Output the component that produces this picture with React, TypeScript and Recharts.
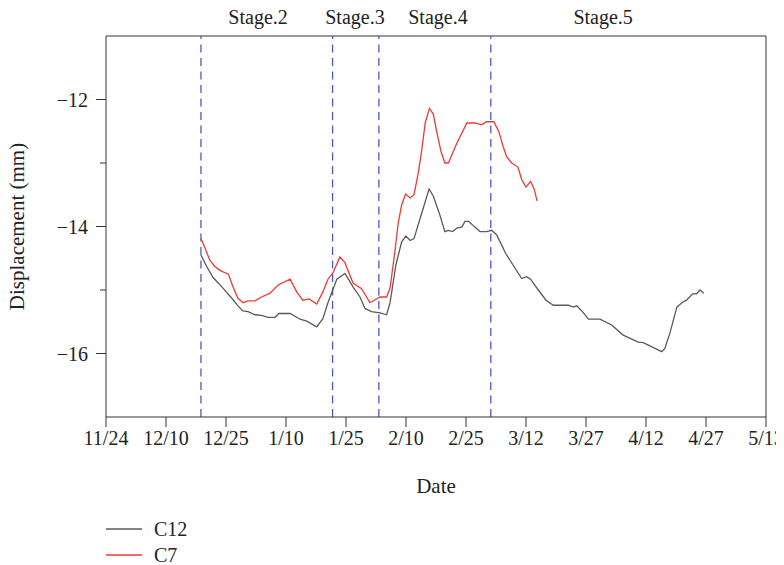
import { LineChart, Line, XAxis, YAxis, ReferenceLine, Legend, Label } from "recharts";

const FONT = "'Liberation Serif', 'DejaVu Serif', serif";
const AXIS_COLOR = "#333333";
const STAGE_COLOR = "#4b58c0";

// x axis: days counted from 11/24, ticks evenly spread over the span
const spanDays = 171;
const tickLabels = ["11/24", "12/10", "12/25", "1/10", "1/25", "2/10", "2/25", "3/12", "3/27", "4/12", "4/27", "5/13"];
const yTicks = [-16, -15, -14, -13, -12];

const c12Days = [
  24.6, 26.1, 27.7, 30.3, 32.6, 34.2, 35.5, 36.8, 38.6, 40.3, 42.0, 43.8, 44.8, 47.7, 50.3, 52.0,
  54.6, 56.2, 57.5, 59.8, 61.9, 64.0, 65.8, 67.1, 68.8, 71.0, 72.7, 73.6, 75.1, 76.6, 77.7, 78.8,
  79.8, 81.4, 82.7, 83.7, 84.8, 86.5, 87.8, 88.7, 89.8, 91.0, 92.2, 93.0, 94.0, 95.2, 96.9, 98.6,
  99.9, 101.2, 102.9, 103.4, 105.5, 107.7, 109.0, 110.0, 112.0, 114.0, 115.9, 119.8, 121.1, 122.0,
  123.7, 125.0, 128.0, 131.0, 134.0, 137.9, 139.2, 144.0, 144.8, 146.1, 147.9, 149.2, 150.4, 152.0,
  153.0, 153.9, 154.9,
];
const c12Values = [
  -14.45, -14.63, -14.8, -14.97, -15.13, -15.25, -15.33, -15.34, -15.39, -15.4, -15.43, -15.43, -15.37, -15.37, -15.46, -15.49,
  -15.58, -15.45, -15.2, -14.83, -14.74, -14.95, -15.11, -15.29, -15.34, -15.36, -15.39, -15.2, -14.61, -14.24, -14.15, -14.22,
  -14.19, -13.87, -13.61, -13.41, -13.52, -13.82, -14.08, -14.06, -14.08, -14.02, -14.01, -13.92, -13.92, -13.99, -14.08, -14.08,
  -14.06, -14.13, -14.34, -14.41, -14.61, -14.82, -14.79, -14.83, -15.0, -15.16, -15.24, -15.24, -15.27, -15.25,
  -15.36, -15.46, -15.46, -15.55, -15.71, -15.82, -15.83, -15.97, -15.92, -15.68, -15.27, -15.2, -15.16, -15.06,
  -15.06, -15.0, -15.05,
];

const c7Days = [
  24.6, 25.65, 26.9, 28.2, 29.5, 31.7, 32.9, 34.2, 35.5, 36.8, 38.6, 40.3, 42.5, 44.6, 47.7, 49.4,
  51.0, 52.6, 54.6, 56.2, 57.5, 58.8, 60.6, 61.9, 64.0, 66.2, 68.4, 71.0, 72.7, 73.6, 74.9, 75.7,
  76.6, 77.6, 78.8, 79.8, 80.9, 81.8, 82.7, 83.8, 84.8, 85.7, 86.8, 87.8, 88.7, 90.9, 93.5, 95.6,
  97.3, 98.6, 100.5, 101.8, 102.9, 103.8, 105.1, 106.7, 107.7, 108.8, 110.0, 110.9, 111.7,
];
const c7Values = [
  -14.19, -14.34, -14.53, -14.63, -14.69, -14.75, -14.95, -15.13, -15.2, -15.17, -15.17, -15.11, -15.05, -14.92, -14.83, -15.03,
  -15.16, -15.14, -15.22, -15.03, -14.83, -14.73, -14.48, -14.57, -14.89, -14.98, -15.2, -15.11, -15.11, -14.97, -14.37, -13.95,
  -13.66, -13.49, -13.55, -13.5, -13.16, -12.8, -12.37, -12.14, -12.23, -12.51, -12.82, -13.0, -13.0, -12.69, -12.37, -12.37,
  -12.4, -12.35, -12.35, -12.51, -12.74, -12.9, -13.0, -13.06, -13.26, -13.38, -13.29, -13.4, -13.6,
];

const stageBounds = [24.6, 58.7, 70.7, 99.7];
const stageNames = ["Stage.2", "Stage.3", "Stage.4", "Stage.5"];
const stageLabelDays = [39.4, 64.5, 86.0, 128.8];

const series = [
  { name: "C12", color: "#5a5a5a", data: c12Days.map((day, i) => ({ day, value: c12Values[i] })) },
  { name: "C7", color: "#ec3a36", data: c7Days.map((day, i) => ({ day, value: c7Values[i] })) },
];

const xTicks = tickLabels.map((_, i) => (i * spanDays) / (tickLabels.length - 1));
const formatX = (v: number) => tickLabels[Math.round((v * (tickLabels.length - 1)) / spanDays)];

const Y_TICK_SIZE = 10;
const Y_TICK_MARGIN = 8;

// major ticks carry a label, the odd values only get a short mark
function YTick(props: any) {
  const { x, y, payload } = props;
  const axisX = x + Y_TICK_SIZE + Y_TICK_MARGIN;
  const major = payload.value % 2 === 0;
  return (
    <g>
      <line x1={axisX} x2={axisX - (major ? Y_TICK_SIZE : 6)} y1={y} y2={y} stroke={AXIS_COLOR} />
      {major && (
        <text x={x} y={y} dy="0.35em" textAnchor="end" fill="#222" fontSize={20} fontFamily={FONT}>
          {"\u2212" + Math.abs(payload.value)}
        </text>
      )}
    </g>
  );
}

function YLabel(props: any) {
  const { viewBox } = props;
  const x = viewBox.x + 16;
  const y = viewBox.y + viewBox.height / 2;
  return (
    <text x={x} y={y} transform={`rotate(-90, ${x}, ${y})`} textAnchor="middle" fill="#222" fontSize={21} fontFamily={FONT}>
      Displacement (mm)
    </text>
  );
}

function LegendBox() {
  return (
    <div style={{ fontFamily: FONT, fontSize: 20, color: "#222" }}>
      {series.map((s) => (
        <div key={s.name} style={{ display: "flex", alignItems: "center", height: 26 }}>
          <svg width={36} height={4} style={{ marginRight: 12 }}>
            <line x1={0} x2={36} y1={2} y2={2} stroke={s.color} strokeWidth={1.3} />
          </svg>
          <span>{s.name}</span>
        </div>
      ))}
    </div>
  );
}

export default function App() {
  return (
    <>
      {/* let labels near the edges spill into the page margin */}
      <style>{".recharts-surface { overflow: visible; }"}</style>
      <LineChart width={776} height={557} margin={{ top: 28, right: 18, left: 0, bottom: 68 }}>
        <XAxis
          dataKey="day"
          type="number"
          domain={[0, spanDays]}
          ticks={xTicks}
          tickFormatter={formatX}
          interval={0}
          allowDataOverflow
          height={80}
          tickSize={10}
          tickMargin={4}
          stroke={AXIS_COLOR}
          tick={{ fill: "#222", fontSize: 20, fontFamily: FONT }}
        >
          <Label value="Date" position="insideBottom" offset={4} fill="#222" fontSize={21} fontFamily={FONT} />
        </XAxis>
        <YAxis
          type="number"
          domain={[-17, -11]}
          ticks={yTicks}
          interval={0}
          allowDataOverflow
          width={98}
          tickSize={Y_TICK_SIZE}
          tickMargin={Y_TICK_MARGIN}
          tickLine={false}
          stroke={AXIS_COLOR}
          tick={<YTick />}
        >
          <Label content={<YLabel />} />
        </YAxis>
        {/* closing frame on top and right */}
        <ReferenceLine y={-11} stroke={AXIS_COLOR} />
        <ReferenceLine x={spanDays} stroke={AXIS_COLOR} />
        {stageBounds.map((d) => (
          <ReferenceLine key={d} x={d} stroke={STAGE_COLOR} strokeWidth={1.3} strokeDasharray="8 5.5" />
        ))}
        {stageNames.map((name, i) => (
          <ReferenceLine
            key={name}
            x={stageLabelDays[i]}
            stroke="none"
            label={{ value: name, position: "top", offset: 12, fill: "#222", fontSize: 20, fontFamily: FONT }}
          />
        ))}
        {series.map((s) => (
          <Line
            key={s.name}
            data={s.data}
            dataKey="value"
            name={s.name}
            stroke={s.color}
            strokeWidth={1.3}
            dot={false}
            isAnimationActive={false}
          />
        ))}
        <Legend
          layout="vertical"
          align="center"
          verticalAlign="middle"
          wrapperStyle={{ left: 98, top: 508, width: "auto" }}
          content={<LegendBox />}
        />
      </LineChart>
    </>
  );
}
